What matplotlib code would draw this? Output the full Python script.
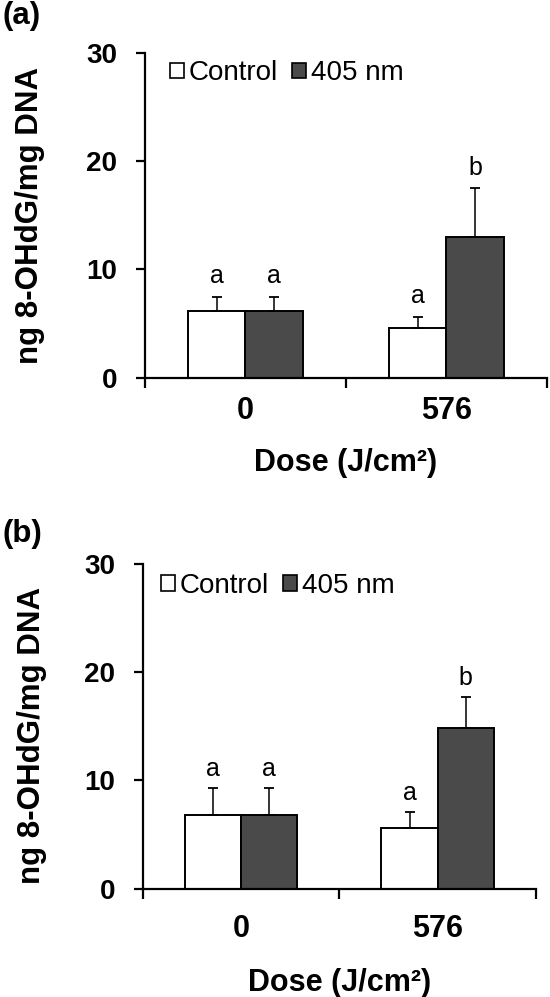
import numpy as np
import matplotlib
matplotlib.use('Agg')
import matplotlib.pyplot as plt
from matplotlib.patches import Patch

# Données
doses = ['0', '576']
series_names = ['Control', '405 nm']
y_ticks = [0, 10, 20, 30]

control_a = [6.2, 4.6]
control_a_err = [1.3, 1.05]
nm405_a = [6.2, 13.0]
nm405_a_err = [1.3, 4.55]
letters_control_a = ['a', 'a']
letters_nm405_a = ['a', 'b']

control_b = [6.8, 5.6]
control_b_err = [2.55, 1.5]
nm405_b = [6.8, 14.85]
nm405_b_err = [2.55, 2.9]
letters_control_b = ['a', 'a']
letters_nm405_b = ['a', 'b']

DARK = '#4a4a4a'
plt.rcParams['font.family'] = ['Liberation Sans', 'DejaVu Sans']


def plot_panel(fig, rect, ctrl, ctrl_err, trt, trt_err, let_ctrl, let_trt,
               leg_pos, ylab_pos, xt_pad, xlab_y, let_off):
    ax = fig.add_axes(rect)
    x = np.arange(len(doses))
    w = 0.286  # largeur des barres
    ax.bar(x - w / 2, ctrl, w, color='white', edgecolor='black', linewidth=1.4, zorder=2)
    ax.bar(x + w / 2, trt, w, color=DARK, edgecolor='black', linewidth=1.4, zorder=2)
    # barres d'erreur vers le haut seulement
    for xs, vals, errs in [(x - w / 2, ctrl, ctrl_err), (x + w / 2, trt, trt_err)]:
        ax.errorbar(xs, vals, yerr=[np.zeros(len(vals)), errs], fmt='none', ecolor='black',
                    elinewidth=1.1, capsize=3.6, capthick=1.3, zorder=3)
    # lettres de significativité
    for xs, vals, errs, lets in [(x - w / 2, ctrl, ctrl_err, let_ctrl), (x + w / 2, trt, trt_err, let_trt)]:
        for xi, v, e, l in zip(xs, vals, errs, lets):
            ax.annotate(l, (xi, v + e), xytext=(0, let_off), textcoords='offset points',
                        ha='center', va='baseline', fontsize=18)

    ax.set_xlim(-0.5, 1.5)
    ax.set_ylim(0, 30)
    ax.set_yticks(y_ticks)
    ax.set_xticks([-0.5, 0.5, 1.5])
    ax.set_xticklabels([])
    ax.set_xticks(x, doses, minor=True)
    ax.tick_params(axis='y', direction='out', length=6.5, width=1.6, pad=13.5, labelsize=20)
    ax.tick_params(axis='x', which='major', direction='out', length=7, width=1.6)
    ax.tick_params(axis='x', which='minor', length=0, pad=xt_pad, labelsize=22)
    for lbl in ax.get_yticklabels() + ax.get_xticklabels(minor=True):
        lbl.set_fontweight('bold')
    for s in ['top', 'right']:
        ax.spines[s].set_visible(False)
    for s in ['left', 'bottom']:
        ax.spines[s].set_linewidth(1.6)

    ax.set_ylabel('ng 8-OHdG/mg DNA', fontsize=22.5, fontweight='bold')
    ax.yaxis.set_label_coords(*ylab_pos)
    ax.set_xlabel('Dose (J/cm²)', fontsize=22, fontweight='bold')
    ax.xaxis.set_label_coords(0.5, xlab_y)

    handles = [Patch(facecolor='white', edgecolor='black', linewidth=1.2),
               Patch(facecolor=DARK, edgecolor='black', linewidth=1.2)]
    ax.legend(handles, series_names, loc='center left', bbox_to_anchor=leg_pos, ncol=2,
              frameon=False, fontsize=20, handlelength=0.5, handleheight=0.48,
              handletextpad=0.18, columnspacing=0.5, borderpad=0, borderaxespad=0)
    return ax


fig = plt.figure(figsize=(5.5, 9.97), dpi=100)

plot_panel(fig, [0.2636, 0.6212, 0.7309, 0.3256], control_a, control_a_err, nm405_a, nm405_a_err,
           letters_control_a, letters_nm405_a, leg_pos=(0.062, 0.937), ylab_pos=(-0.249, 0.5),
           xt_pad=13, xlab_y=-0.217, let_off=9.5)
plot_panel(fig, [0.2595, 0.1086, 0.7150, 0.3257], control_b, control_b_err, nm405_b, nm405_b_err,
           letters_control_b, letters_nm405_b, leg_pos=(0.046, 0.932), ylab_pos=(-0.243, 0.473),
           xt_pad=18, xlab_y=-0.244, let_off=8.3)

fig.text(3 / 550, 1 - 1 / 997, '(a)', ha='left', va='top', fontsize=22.5, fontweight='bold')
fig.text(3 / 550, 1 - 519 / 997, '(b)', ha='left', va='top', fontsize=22.5, fontweight='bold')

fig.savefig('out.png', dpi=100)
